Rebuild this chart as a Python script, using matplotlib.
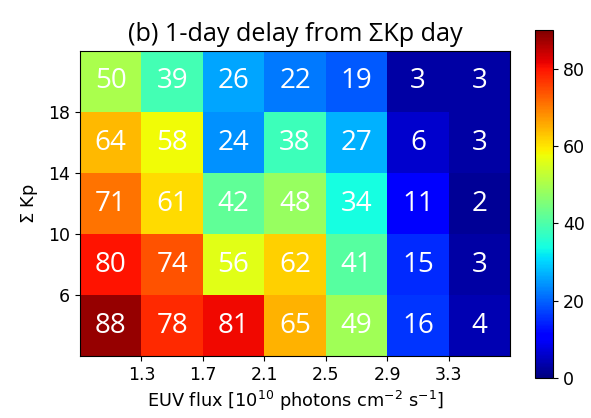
import numpy as np
import matplotlib
matplotlib.use('Agg')
import matplotlib.pyplot as plt

# EUV flux bin edges and Sum Kp bin edges
euv_edges = [0.9, 1.3, 1.7, 2.1, 2.5, 2.9, 3.3, 3.7]
kp_edges = [2, 6, 10, 14, 18, 22]
xticks = [1.3, 1.7, 2.1, 2.5, 2.9, 3.3]
yticks = [6, 10, 14, 18]

# rows go from bottom (Kp 2-6) to top (Kp 18-22)
row_2_6 = [88, 78, 81, 65, 49, 16, 4]
row_6_10 = [80, 74, 56, 62, 41, 15, 3]
row_10_14 = [71, 61, 42, 48, 34, 11, 2]
row_14_18 = [64, 58, 24, 38, 27, 6, 3]
row_18_22 = [50, 39, 26, 22, 19, 3, 3]

vals = np.array([row_2_6, row_6_10, row_10_14, row_14_18, row_18_22])

fig = plt.figure(figsize=(5.91, 4.18), dpi=100)
ax = fig.add_axes([0.1354, 0.1483, 0.7276, 0.7297])
cax = fig.add_axes([0.9052, 0.0957, 0.0305, 0.8325])

mesh = ax.pcolormesh(euv_edges, kp_edges, vals, cmap='jet', vmin=0, vmax=90)

num_font = ['Open Sans', 'DejaVu Sans']
for i in range(vals.shape[0]):
    for j in range(vals.shape[1]):
        xc = (euv_edges[j] + euv_edges[j+1]) / 2
        yc = (kp_edges[i] + kp_edges[i+1]) / 2
        ax.text(xc, yc, str(vals[i, j]), ha='center', va='center',
                color='white', fontsize=20, family=num_font)

ax.set_xticks(xticks)
ax.set_xticklabels([str(t) for t in xticks])
ax.set_yticks(yticks)
ax.tick_params(labelsize=12.5)
ax.set_xlabel(r'EUV flux [$10^{10}$ photons cm$^{-2}$ s$^{-1}$]', fontsize=12.8)
ax.set_ylabel(r'$\Sigma$ Kp', fontsize=12.8, labelpad=6)
ax.set_title('(b) 1-day delay from \u03a3Kp day', fontsize=18.2, family=num_font, pad=7)

cb = fig.colorbar(mesh, cax=cax)
cb.set_ticks([0, 20, 40, 60, 80])
cb.ax.tick_params(labelsize=12.5)

fig.savefig('out.png', dpi=100)
